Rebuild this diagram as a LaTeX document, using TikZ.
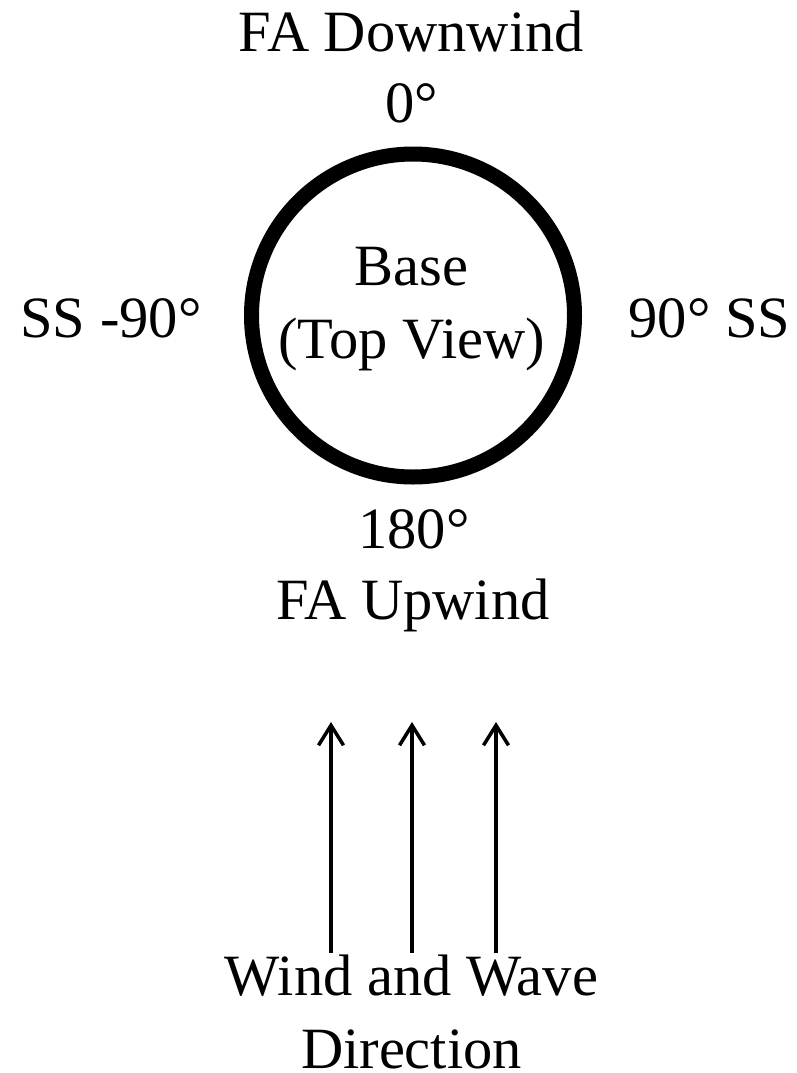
\documentclass[tikz,border=0pt]{standalone}
\usepackage{fontspec}
\setmainfont{Liberation Serif}
\usetikzlibrary{arrows.meta}
\begin{document}
\begin{tikzpicture}[x=1pt,y=-1pt,
  lbl/.style={anchor=base,inner sep=0pt,font=\fontsize{58.5}{70}\selectfont},
  windarrow/.style={line width=3.5pt,-{Straight Barb[length=20pt,width=25pt,line width=3.5pt]}}]
\useasboundingbox (0,0) rectangle (797,1073);
\draw[line width=15pt] (413,315.5) circle[radius=161.5];
\node[lbl] (fad) at (411.5,52) {FA Downwind};
\node[lbl] (zero) at (411.5,122) {0°};
\node[lbl] (base) at (411.5,285) {Base};
\node[lbl] (top) at (411.5,358) {(Top View)};
\node[lbl] (ssl) at (111,337) {SS -90°};
\node[lbl] (ssr) at (709.5,337) {90° SS};
\node[lbl] (oneeighty) at (414,548) {180°};
\node[lbl] (fau) at (413,619) {FA Upwind};
\node[lbl] (wind) at (411.5,995) {Wind and Wave};
\node[lbl] (dir) at (411.5,1068) {Direction};
\coordinate (a1s) at (331,953); \coordinate (a1e) at (331,722);
\coordinate (a2s) at (412,953); \coordinate (a2e) at (412,722);
\coordinate (a3s) at (496,953); \coordinate (a3e) at (496,722);
\draw[windarrow] (a1s) -- (a1e);
\draw[windarrow] (a2s) -- (a2e);
\draw[windarrow] (a3s) -- (a3e);
\end{tikzpicture}
\end{document}
